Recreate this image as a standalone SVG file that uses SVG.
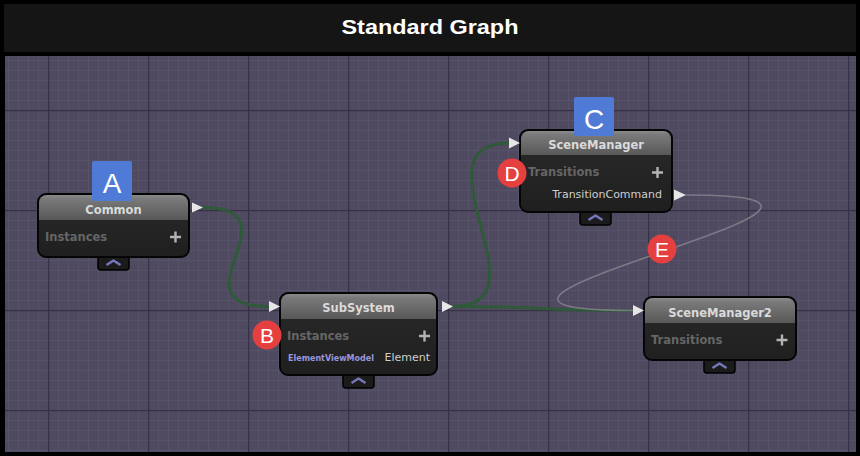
<svg xmlns="http://www.w3.org/2000/svg" width="860" height="456" viewBox="0 0 860 456">
<defs>
<pattern id="minor" patternUnits="userSpaceOnUse" x="8" y="0" width="10" height="10">
<path d="M0.5,0 V10 M0,0.5 H10" stroke="#56526a" stroke-width="1" fill="none"/>
</pattern>
<pattern id="major" patternUnits="userSpaceOnUse" x="48" y="10" width="100" height="100">
<path d="M0.5,0 V100 M0,0.5 H100" stroke="#353147" stroke-width="1.5" fill="none"/>
</pattern>
<linearGradient id="hdr" x1="0" y1="0" x2="0" y2="1">
<stop offset="0" stop-color="#8a8a8a"/>
<stop offset="0.15" stop-color="#7a7a7a"/>
<stop offset="1" stop-color="#585858"/>
</linearGradient>
<linearGradient id="body" x1="0" y1="0" x2="0" y2="1">
<stop offset="0" stop-color="#2a2a2a"/>
<stop offset="1" stop-color="#1f1f1f"/>
</linearGradient>
</defs>
<style>
.title{font-family:"Liberation Sans",Arial,sans-serif;font-weight:bold;font-size:21px;fill:#ffffff}
.nt{font-family:"DejaVu Sans",sans-serif;font-weight:bold;font-size:11.5px;fill:#dadada}
.sec{font-family:"DejaVu Sans",sans-serif;font-weight:bold;font-size:11.5px;fill:#666666}
.item{font-family:"DejaVu Sans",sans-serif;font-size:11px;fill:#cfcfcf}
.type{font-family:"DejaVu Sans",sans-serif;font-weight:bold;font-size:8px;fill:#9a96dc}
.frame{stroke:#050505;stroke-width:2}
.plus{stroke:#b4b4b4;stroke-width:2.4;fill:none}
.tab{fill:#1b1b1b;stroke:#000;stroke-width:1.5}
.chev{stroke:#7676bb;stroke-width:2.5;fill:none;stroke-linejoin:round}
.port{fill:#e6e6e6}
.wire{fill:none;stroke:#2f5a39;stroke-width:3}
.wire2{fill:none;stroke:#7d7987;stroke-width:1.6}
.lblA{fill:#4f7bd6}
.lblR{fill:#e5403f}
.lt{font-family:"Liberation Sans",Arial,sans-serif;fill:#ffffff;text-anchor:middle}
</style>
<rect width="860" height="456" fill="#000"/>
<rect x="4" y="4" width="852" height="48" fill="#151515"/>
<text class="title" x="430" y="34" text-anchor="middle" textLength="177" lengthAdjust="spacingAndGlyphs">Standard Graph</text>
<g id="canvas">
<rect x="5" y="56" width="851" height="396" fill="#4f4a5f"/>
<rect x="5" y="56" width="851" height="396" fill="url(#minor)"/>
<rect x="5" y="56" width="851" height="396" fill="url(#major)"/>
</g>
<g id="connectors">
<path class="wire" d="M202,207.5 C302,207.5 169,306.5 269,306.5"/>
<path class="wire" d="M452,306.5 C552,306.5 409,143 509,143"/>
<path class="wire" d="M452,306.5 C552,306.5 533,310.5 633,310.5"/>
<path class="wire2" d="M686,195 C966,195 353,310.5 633,310.5"/>
</g>
<g id="node-common" transform="translate(38,194)">
<rect class="tab" x="60" y="55" width="31" height="21" rx="3"/>
<path class="chev" d="M68.5,71 L75.5,66.5 L82.5,71"/>
<rect class="frame" x="0" y="0" width="151" height="63" rx="8" fill="url(#body)"/>
<path d="M1,26 V9 a8,8 0 0 1 8,-8 H142 a8,8 0 0 1 8,8 V26 Z" fill="url(#hdr)"/>
<text class="nt" x="75.5" y="20" text-anchor="middle">Common</text>
<text class="sec" x="7" y="47">Instances</text>
<path class="plus" d="M132,43 H143 M137.5,37.5 V48.5"/>
<polygon class="port" points="154,8.5 165,13.5 154,18.5"/>
</g>
<g id="node-subsystem" transform="translate(280,293)">
<rect class="tab" x="63" y="74" width="31" height="21" rx="3"/>
<path class="chev" d="M71.5,90 L78.5,85.5 L85.5,90"/>
<rect class="frame" x="0" y="0" width="157" height="82" rx="8" fill="url(#body)"/>
<path d="M1,26 V9 a8,8 0 0 1 8,-8 H148 a8,8 0 0 1 8,8 V26 Z" fill="url(#hdr)"/>
<text class="nt" x="78.5" y="19" text-anchor="middle">SubSystem</text>
<text class="sec" x="7" y="47">Instances</text>
<path class="plus" d="M139,43 H150 M144.5,37.5 V48.5"/>
<text class="type" x="8" y="68">ElementViewModel</text>
<text class="item" x="150" y="68" text-anchor="end">Element</text>
<polygon class="port" points="-11,8 0,13.5 -11,19"/>
<polygon class="port" points="162,8 173,13.5 162,19"/>
</g>
<g id="node-scenemanager" transform="translate(520,130)">
<rect class="tab" x="60" y="74" width="31" height="21" rx="3"/>
<path class="chev" d="M68.5,90 L75.5,85.5 L82.5,90"/>
<rect class="frame" x="0" y="0" width="152" height="82" rx="8" fill="url(#body)"/>
<path d="M1,25 V9 a8,8 0 0 1 8,-8 H143 a8,8 0 0 1 8,8 V25 Z" fill="url(#hdr)"/>
<text class="nt" x="76" y="19" text-anchor="middle">SceneManager</text>
<text class="sec" x="8" y="46">Transitions</text>
<path class="plus" d="M132,42.5 H143 M137.5,37 V48"/>
<text class="item" x="142" y="68" text-anchor="end">TransitionCommand</text>
<polygon class="port" points="-11,7.5 0,13 -11,18.5"/>
<polygon class="port" points="154,59.5 166,65 154,70.5"/>
</g>
<g id="node-scenemanager2" transform="translate(644,297)">
<rect class="tab" x="60" y="55" width="31" height="21" rx="3"/>
<path class="chev" d="M68.5,71 L75.5,66.5 L82.5,71"/>
<rect class="frame" x="0" y="0" width="152" height="63" rx="8" fill="url(#body)"/>
<path d="M1,26 V9 a8,8 0 0 1 8,-8 H143 a8,8 0 0 1 8,8 V26 Z" fill="url(#hdr)"/>
<text class="nt" x="76" y="20" text-anchor="middle">SceneManager2</text>
<text class="sec" x="7" y="47">Transitions</text>
<path class="plus" d="M132.5,43 H143.5 M138,37.5 V48.5"/>
<polygon class="port" points="-11,8 0,13.5 -11,19"/>
</g>
<g id="label-a">
<rect class="lblA" x="92" y="161" width="40" height="40" rx="2"/>
<text class="lt" x="112" y="193" font-size="28">A</text>
</g>
<g id="label-b">
<circle class="lblR" cx="267" cy="335" r="14.5"/>
<text class="lt" x="267" y="342.5" font-size="21">B</text>
</g>
<g id="label-c">
<rect class="lblA" x="574" y="97" width="40" height="39" rx="2"/>
<text class="lt" x="594" y="129" font-size="28">C</text>
</g>
<g id="label-d">
<circle class="lblR" cx="512" cy="173" r="14.5"/>
<text class="lt" x="512" y="180.5" font-size="21">D</text>
</g>
<g id="label-e">
<circle class="lblR" cx="662" cy="249" r="14.5"/>
<text class="lt" x="662" y="256.5" font-size="21">E</text>
</g>
</svg>
